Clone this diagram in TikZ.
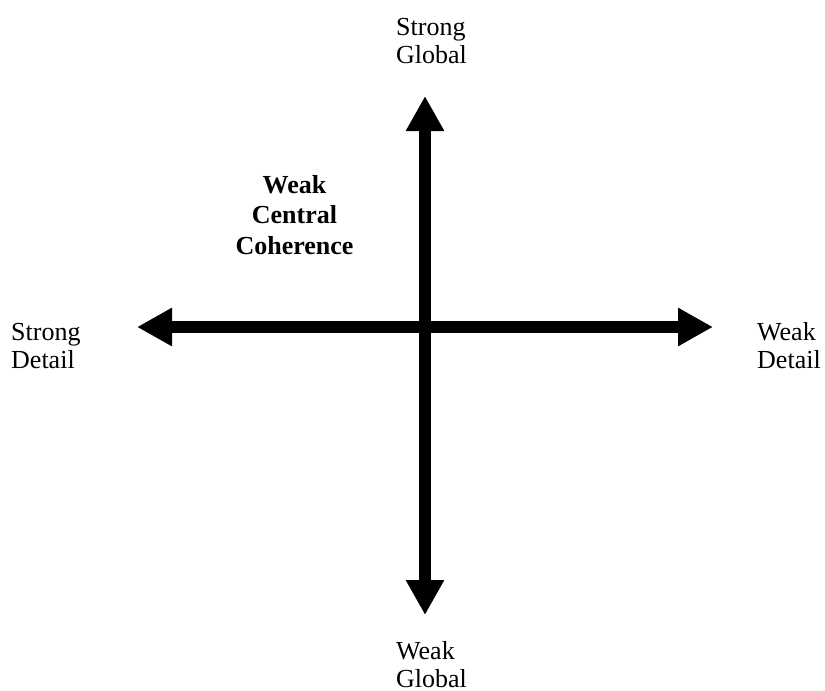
\documentclass[tikz,border=0pt]{standalone}
\usepackage{fontspec}
\setmainfont{Liberation Serif}
\usetikzlibrary{arrows.meta}
\begin{document}
\begin{tikzpicture}[x=1pt,y=-1pt,
  axis/.style={line width=12pt,{Triangle[length=35pt,width=36pt]}-{Triangle[length=35pt,width=36pt]}},
  lbl/.style={inner sep=0pt,anchor=base west,align=left,font=\fontsize{26}{28}\selectfont},
  title/.style={inner sep=0pt,anchor=base,align=center,font=\fontsize{26}{30.5}\selectfont\bfseries}]
\useasboundingbox (0,0) rectangle (825,691);
\coordinate (top) at (425,96);
\coordinate (bot) at (425,615);
\coordinate (left) at (137,327);
\coordinate (right) at (713,327);
\draw[axis] (left) -- (right);
\draw[axis] (bot) -- (top);
\node[lbl] (sg) at (396,63) {Strong\\Global};
\node[lbl] (wg) at (396,687) {Weak\\Global};
\node[lbl] (sd) at (11,368) {Strong\\Detail};
\node[lbl] (wd) at (757,368) {Weak\\Detail};
\node[title] (wcc) at (294.5,254) {Weak\\Central\\Coherence};
\end{tikzpicture}
\end{document}
